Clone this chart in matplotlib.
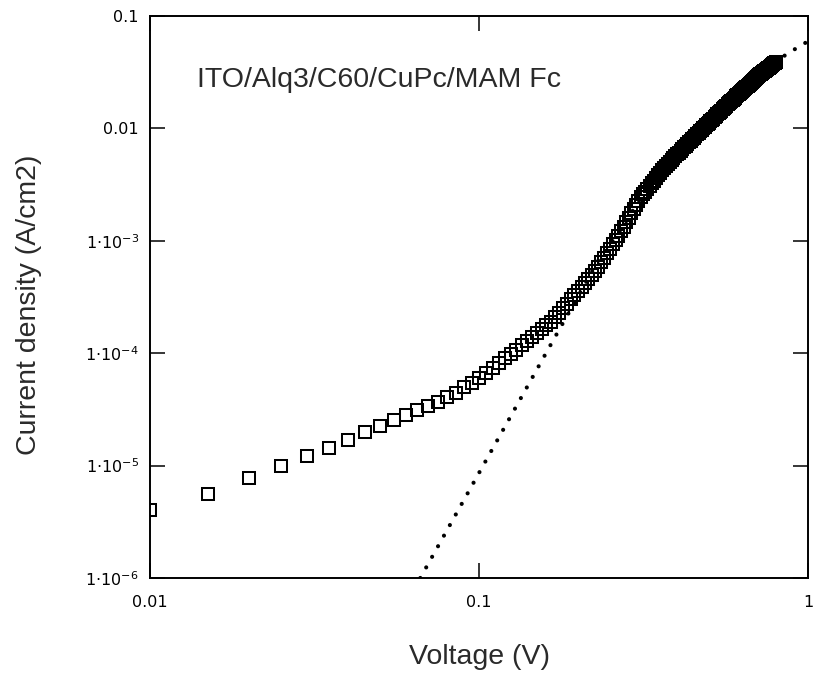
import matplotlib
matplotlib.use("Agg")
import matplotlib.pyplot as plt
import numpy as np
from matplotlib.ticker import FixedLocator, FixedFormatter, NullLocator

# ---- data ----
voltage = [
    0.010, 0.015, 0.020, 0.025, 0.030, 0.035, 0.040, 0.045, 0.050, 0.055,
    0.060, 0.065, 0.070, 0.075, 0.080, 0.085, 0.090, 0.095, 0.100, 0.105,
    0.110, 0.115, 0.120, 0.125, 0.130, 0.135, 0.140, 0.145, 0.150, 0.155,
    0.160, 0.165, 0.170, 0.175, 0.180, 0.185, 0.190, 0.195, 0.200, 0.205,
    0.210, 0.215, 0.220, 0.225, 0.230, 0.235, 0.240, 0.245, 0.250, 0.255,
    0.260, 0.265, 0.270, 0.275, 0.280, 0.285, 0.290, 0.295, 0.300, 0.305,
    0.310, 0.315, 0.320, 0.325, 0.330, 0.335, 0.340, 0.345, 0.350, 0.355,
    0.360, 0.365, 0.370, 0.375, 0.380, 0.385, 0.390, 0.395, 0.400, 0.405,
    0.410, 0.415, 0.420, 0.425, 0.430, 0.435, 0.440, 0.445, 0.450, 0.455,
    0.460, 0.465, 0.470, 0.475, 0.480, 0.485, 0.490, 0.495, 0.500, 0.505,
    0.510, 0.515, 0.520, 0.525, 0.530, 0.535, 0.540, 0.545, 0.550, 0.555,
    0.560, 0.565, 0.570, 0.575, 0.580, 0.585, 0.590, 0.595, 0.600, 0.605,
    0.610, 0.615, 0.620, 0.625, 0.630, 0.635, 0.640, 0.645, 0.650, 0.655,
    0.660, 0.665, 0.670, 0.675, 0.680, 0.685, 0.690, 0.695, 0.700, 0.705,
    0.710, 0.715, 0.720, 0.725, 0.730, 0.735, 0.740, 0.745, 0.750, 0.755,
    0.760, 0.765, 0.770, 0.775, 0.780, 0.785, 0.790, 0.795, 0.800,
]

# log10 of current density (A/cm2)
log10_current_density = [
    -5.395, -5.253, -5.110, -5.004, -4.915, -4.843, -4.772, -4.705, -4.648, -4.597,
    -4.550, -4.507, -4.467, -4.430, -4.390, -4.350, -4.305, -4.263, -4.221, -4.174,
    -4.129, -4.086, -4.045, -4.006, -3.968, -3.930, -3.892, -3.855, -3.819, -3.785,
    -3.751, -3.719, -3.681, -3.639, -3.598, -3.559, -3.520, -3.481, -3.443, -3.407,
    -3.371, -3.336, -3.301, -3.268, -3.235, -3.193, -3.151, -3.110, -3.070, -3.031,
    -2.992, -2.954, -2.915, -2.874, -2.834, -2.794, -2.755, -2.717, -2.679, -2.642,
    -2.614, -2.588, -2.563, -2.538, -2.513, -2.489, -2.464, -2.441, -2.417, -2.394,
    -2.372, -2.349, -2.331, -2.314, -2.297, -2.280, -2.264, -2.247, -2.231, -2.215,
    -2.200, -2.184, -2.169, -2.154, -2.139, -2.124, -2.110, -2.095, -2.081, -2.067,
    -2.053, -2.039, -2.026, -2.013, -1.999, -1.987, -1.974, -1.961, -1.949, -1.936,
    -1.924, -1.912, -1.900, -1.888, -1.876, -1.864, -1.853, -1.841, -1.830, -1.819,
    -1.808, -1.797, -1.787, -1.776, -1.766, -1.756, -1.746, -1.736, -1.726, -1.716,
    -1.706, -1.696, -1.686, -1.677, -1.667, -1.658, -1.648, -1.639, -1.630, -1.621,
    -1.612, -1.603, -1.594, -1.585, -1.576, -1.567, -1.558, -1.550, -1.541, -1.534,
    -1.527, -1.520, -1.513, -1.506, -1.500, -1.493, -1.486, -1.479, -1.473, -1.466,
    -1.460, -1.453, -1.447, -1.440, -1.434, -1.427, -1.421, -1.415, -1.409,
]

# dotted model curve
fit_voltage = [0.0663, 0.1675, 0.23, 0.27, 0.31, 0.37, 0.47, 0.55, 0.70, 0.86, 1.00]
fit_current = [1.0e-6, 1.28e-4, 6.6e-4, 1.26e-3, 2.4e-3, 4.68e-3, 9.33e-3,
               1.48e-2, 2.88e-2, 4.57e-2, 5.96e-2]

x_ticks = [0.01, 0.1, 1]
x_tick_labels = ["0.01", "0.1", "1"]
y_ticks = [1e-6, 1e-5, 1e-4, 1e-3, 0.01, 0.1]
y_tick_labels = [r"$\mathregular{1{\cdot}10^{-6}}$", r"$\mathregular{1{\cdot}10^{-5}}$",
                 r"$\mathregular{1{\cdot}10^{-4}}$", r"$\mathregular{1{\cdot}10^{-3}}$",
                 "0.01", "0.1"]

title_text = "ITO/Alq3/C60/CuPc/MAM Fc"
x_label = "Voltage (V)"
y_label = "Current density (A/cm2)"

# ---- figure ----
current_density = np.power(10.0, np.array(log10_current_density))

fig = plt.figure(figsize=(8.13, 6.81), dpi=100)
ax = fig.add_axes([150 / 813, 1 - 578 / 681, 658 / 813, 562 / 681])
ax.set_xscale("log")
ax.set_yscale("log")
ax.set_xlim(0.01, 1)
ax.set_ylim(1e-6, 0.1)

ax.plot(fit_voltage, fit_current, color="black", lw=3.0,
        linestyle=(0, (0.01, 2.9)), dash_capstyle="round", zorder=2)
ax.plot(voltage, current_density, linestyle="none", marker="s", ms=8.6,
        mfc="none", mec="black", mew=1.45, antialiased=False, zorder=3)

ax.xaxis.set_major_locator(FixedLocator(x_ticks))
ax.xaxis.set_major_formatter(FixedFormatter(x_tick_labels))
ax.yaxis.set_major_locator(FixedLocator(y_ticks))
ax.yaxis.set_major_formatter(FixedFormatter(y_tick_labels))
ax.xaxis.set_minor_locator(NullLocator())
ax.yaxis.set_minor_locator(NullLocator())

ax.tick_params(axis="both", which="major", direction="in", length=11, width=1.1,
               top=True, right=True, labelsize=11.5, colors="black")
ax.tick_params(axis="x", pad=12)
ax.tick_params(axis="y", pad=8)
for s in ax.spines.values():
    s.set_linewidth(1.4)
    s.set_color("black")

lab_font = dict(family=["Liberation Sans", "DejaVu Sans"], size=20.5, color="#2a2a2a")
ax.set_xlabel(x_label, **lab_font)
ax.xaxis.set_label_coords(0.5, -0.1406)
ax.xaxis.label.set_va("center")
ax.set_ylabel(y_label, **lab_font)
ax.yaxis.set_label_coords(-0.1839, 0.4858)
ax.yaxis.label.set_va("center")

ax.text(0.0713, 0.886, title_text, transform=ax.transAxes, ha="left", va="center",
        **lab_font)

fig.savefig("out.png", dpi=100)
